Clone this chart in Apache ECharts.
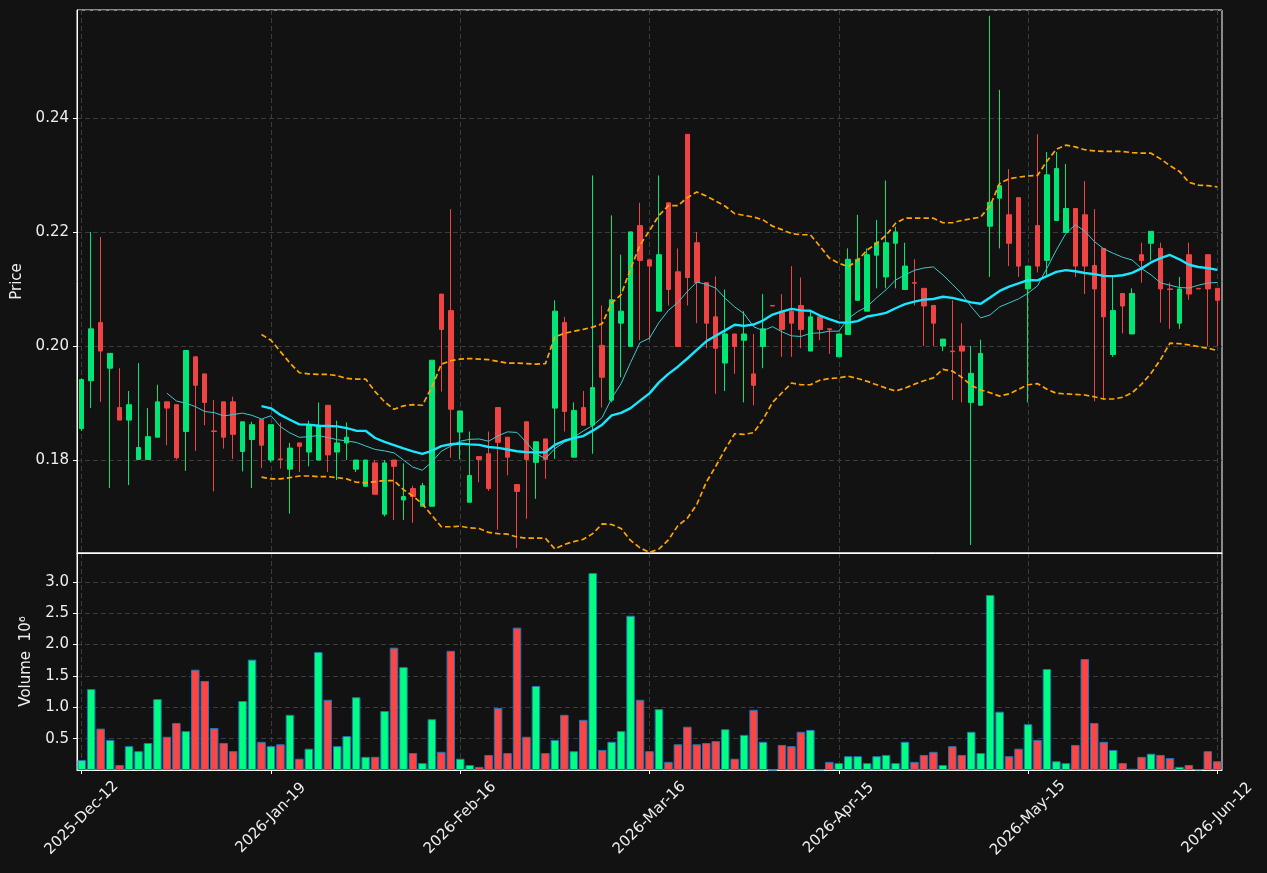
<!DOCTYPE html>
<html>
<head>
<meta charset="utf-8">
<script src="https://cdn.jsdelivr.net/npm/echarts@6/dist/echarts.min.js"></script>
<style>
  html, body { margin: 0; padding: 0; background: #121212; }
  #chart { width: 1267px; height: 873px; }
</style>
</head>
<body>
<div id="chart"></div>
<script>
// x ticks: bar index and date text
const tickIndex = [0, 20, 40, 60, 80, 100, 120];
const tickLabels = ['2025-Dec-12', '2026-Jan-19', '2026-Feb-16', '2026-Mar-16', '2026-Apr-15', '2026-May-15', '2026-Jun-12'];

const openPrices = [
  0.1855,0.1939,0.2041,0.1961,0.1892,0.1870,0.1801,0.1801,0.1840,0.1902,
  0.1897,0.1850,0.1981,0.1951,0.1851,0.1902,0.1902,0.1815,0.1836,0.1871,
  0.1800,0.1802,0.1784,0.1830,0.1814,0.1800,0.1896,0.1814,0.1830,0.1784,
  0.1754,0.1795,0.1705,0.1800,0.1730,0.1750,0.1719,0.1719,0.2091,0.2062,
  0.1849,0.1726,0.1806,0.1811,0.1892,0.1840,0.1757,0.1867,0.1796,0.1837,
  0.1891,0.2041,0.1805,0.1892,0.1861,0.2001,0.1905,0.2040,0.1999,0.2211,
  0.2151,0.2061,0.2251,0.2130,0.2371,0.2181,0.2111,0.2051,0.1970,0.2021,
  0.2010,0.1951,0.1999,0.2071,0.2061,0.2061,0.2071,0.1991,0.2051,0.2030,
  0.1981,0.2020,0.2080,0.2061,0.2159,0.2121,0.2180,0.2099,0.2111,0.2101,
  0.2071,0.2000,0.1991,0.2000,0.1901,0.1896,0.2210,0.2259,0.2230,0.2260,
  0.2100,0.2211,0.2150,0.2220,0.2199,0.2241,0.2230,0.2141,0.2171,0.1985,
  0.2092,0.2021,0.2160,0.2180,0.2171,0.2100,0.2040,0.2160,0.2101,0.2160,
  0.2101
];
const highPrices = [
  0.1943,0.2200,0.2191,0.1987,0.1961,0.1921,0.1970,0.1891,0.1932,0.1902,
  0.1897,0.1992,0.1981,0.1951,0.1905,0.1902,0.1911,0.1867,0.1867,0.1871,
  0.1862,0.1866,0.1830,0.1830,0.1869,0.1901,0.1896,0.1869,0.1866,0.1800,
  0.1800,0.1800,0.1800,0.1800,0.1794,0.1755,0.1760,0.1975,0.2091,0.2240,
  0.1886,0.1850,0.1806,0.1850,0.1892,0.1840,0.1757,0.1867,0.1832,0.1837,
  0.2080,0.2051,0.1901,0.1921,0.2299,0.2071,0.2229,0.2160,0.2200,0.2251,
  0.2151,0.2299,0.2251,0.2171,0.2371,0.2200,0.2111,0.2122,0.2099,0.2021,
  0.2061,0.2021,0.2091,0.2071,0.2091,0.2140,0.2120,0.2061,0.2051,0.2030,
  0.2021,0.2171,0.2230,0.2171,0.2221,0.2290,0.2209,0.2181,0.2152,0.2101,
  0.2071,0.2012,0.2080,0.2040,0.2000,0.2011,0.2579,0.2449,0.2310,0.2260,
  0.2141,0.2371,0.2340,0.2340,0.2319,0.2241,0.2289,0.2240,0.2171,0.2121,
  0.2092,0.2101,0.2181,0.2201,0.2181,0.2111,0.2121,0.2181,0.2101,0.2160,
  0.2101
];
const lowPrices = [
  0.1851,0.1891,0.1902,0.1751,0.1870,0.1756,0.1801,0.1801,0.1840,0.1826,
  0.1801,0.1781,0.1816,0.1861,0.1745,0.1820,0.1802,0.1780,0.1751,0.1786,
  0.1796,0.1785,0.1706,0.1779,0.1789,0.1800,0.1779,0.1765,0.1800,0.1779,
  0.1754,0.1740,0.1701,0.1695,0.1695,0.1690,0.1719,0.1719,0.1920,0.1804,
  0.1801,0.1726,0.1761,0.1746,0.1678,0.1773,0.1646,0.1697,0.1732,0.1767,
  0.1802,0.1850,0.1805,0.1861,0.1811,0.1892,0.1901,0.1945,0.1999,0.2010,
  0.2010,0.2061,0.2071,0.1999,0.2071,0.2040,0.1996,0.1916,0.1921,0.1951,
  0.1901,0.1896,0.1961,0.2070,0.1981,0.1981,0.1996,0.1991,0.2010,0.1986,
  0.1981,0.2020,0.2080,0.2061,0.2101,0.2101,0.2101,0.2099,0.2071,0.2000,
  0.2000,0.1991,0.1905,0.1901,0.1651,0.1896,0.2121,0.2171,0.2140,0.2121,
  0.1901,0.2129,0.2122,0.2220,0.2199,0.2121,0.2091,0.1903,0.1905,0.1981,
  0.2022,0.2021,0.2111,0.2150,0.2041,0.2030,0.2030,0.2081,0.2100,0.2000,
  0.2000
];
const closePrices = [
  0.1941,0.2030,0.1991,0.1987,0.1870,0.1897,0.1822,0.1841,0.1902,0.1891,
  0.1804,0.1992,0.1931,0.1901,0.1850,0.1840,0.1845,0.1867,0.1862,0.1826,
  0.1862,0.1801,0.1821,0.1824,0.1861,0.1861,0.1809,0.1830,0.1840,0.1800,
  0.1800,0.1740,0.1795,0.1789,0.1736,0.1736,0.1755,0.1975,0.2029,0.1889,
  0.1886,0.1773,0.1801,0.1750,0.1831,0.1805,0.1745,0.1801,0.1832,0.1801,
  0.2061,0.1885,0.1887,0.1861,0.1927,0.1945,0.2081,0.2061,0.2200,0.2150,
  0.2140,0.2160,0.2099,0.1999,0.2120,0.2111,0.2040,0.1996,0.2021,0.1999,
  0.2021,0.1931,0.2030,0.2070,0.2029,0.2040,0.2029,0.2051,0.2029,0.2029,
  0.2021,0.2152,0.2152,0.2160,0.2181,0.2181,0.2200,0.2140,0.2110,0.2070,
  0.2040,0.2012,0.1990,0.1991,0.1952,0.1987,0.2252,0.2281,0.2180,0.2140,
  0.2140,0.2140,0.2300,0.2311,0.2241,0.2140,0.2140,0.2100,0.2051,0.2062,
  0.2070,0.2092,0.2150,0.2201,0.2100,0.2099,0.2100,0.2091,0.2100,0.2100,
  0.2080
];
// volume in millions
const volumes = [
  0.16,1.29,0.66,0.48,0.08,0.38,0.30,0.43,1.13,0.53,
  0.75,0.62,1.60,1.42,0.67,0.43,0.30,1.10,1.76,0.45,
  0.38,0.41,0.88,0.18,0.34,1.88,1.12,0.38,0.54,1.16,
  0.21,0.21,0.94,1.95,1.64,0.27,0.11,0.81,0.29,1.90,
  0.18,0.08,0.05,0.24,0.99,0.27,2.27,0.53,1.34,0.27,
  0.48,0.88,0.30,0.80,3.14,0.32,0.45,0.62,2.46,1.12,
  0.30,0.97,0.13,0.41,0.69,0.41,0.43,0.46,0.65,0.18,
  0.56,0.96,0.45,0.00,0.40,0.38,0.61,0.64,0.01,0.13,
  0.11,0.22,0.22,0.11,0.22,0.24,0.11,0.45,0.13,0.24,
  0.29,0.08,0.38,0.24,0.61,0.27,2.79,0.93,0.22,0.34,
  0.73,0.48,1.61,0.14,0.11,0.40,1.77,0.75,0.45,0.32,
  0.11,0.02,0.21,0.26,0.24,0.19,0.05,0.08,0.01,0.30,
  0.14
];
// overlay lines
const ma10 = [
  null,null,null,null,null,null,null,null,null,
  0.19172,0.19035,0.18997,0.18937,0.18851,0.18831,0.18774,0.18797,0.18823,0.18783,0.18718,
  0.18776,0.18585,0.18475,0.18398,0.18409,0.18430,0.18394,0.18357,0.18335,0.18309,
  0.18247,0.18186,0.18160,0.18125,0.18000,0.17875,0.17821,0.17966,0.18155,0.18244,
  0.18330,0.18363,0.18369,0.18330,0.18425,0.18494,0.18484,0.18310,0.18113,0.18025,
  0.18200,0.18312,0.18398,0.18509,0.18605,0.18745,0.19081,0.19341,0.19709,0.20058,
  0.20137,0.20412,0.20624,0.20762,0.20955,0.21121,0.21080,0.21015,0.20836,0.20685,
  0.20566,0.20337,0.20268,0.20339,0.20248,0.20177,0.20166,0.20221,0.20229,0.20259,
  0.20259,0.20480,0.20602,0.20692,0.20844,0.20985,0.21156,0.21245,0.21326,0.21367,
  0.21386,0.21246,0.21084,0.20915,0.20686,0.20492,0.20544,0.20685,0.20755,0.20825,
  0.20925,0.21053,0.21363,0.21683,0.21972,0.22125,0.22013,0.21832,0.21703,0.21625,
  0.21555,0.21507,0.21357,0.21247,0.21106,0.21065,0.21025,0.21016,0.21065,0.21103,
  0.21113
];
const ma20 = [
  null,null,null,null,null,null,null,null,null,null,
  null,null,null,null,null,null,null,null,null,
  0.18945,
  0.18906,0.18791,0.18706,0.18625,0.18620,0.18602,0.18596,0.18590,0.18559,0.18514,
  0.18512,0.18386,0.18318,0.18262,0.18205,0.18153,0.18108,0.18162,0.18245,0.18277,
  0.18289,0.18275,0.18265,0.18228,0.18213,0.18185,0.18153,0.18138,0.18134,0.18135,
  0.18265,0.18338,0.18384,0.18420,0.18515,0.18620,0.18783,0.18826,0.18911,0.19042,
  0.19169,0.19362,0.19511,0.19636,0.19780,0.19933,0.20081,0.20178,0.20273,0.20372,
  0.20352,0.20375,0.20446,0.20551,0.20602,0.20649,0.20623,0.20618,0.20533,0.20472,
  0.20413,0.20409,0.20435,0.20516,0.20546,0.20581,0.20661,0.20733,0.20778,0.20813,
  0.20823,0.20863,0.20843,0.20804,0.20765,0.20739,0.20850,0.20965,0.21041,0.21096,
  0.21156,0.21150,0.21224,0.21299,0.21329,0.21309,0.21279,0.21259,0.21229,0.21225,
  0.21240,0.21280,0.21360,0.21465,0.21539,0.21595,0.21519,0.21424,0.21384,0.21364,
  0.21334
];
const bbUpper = [
  null,null,null,null,null,null,null,null,null,null,
  null,null,null,null,null,null,null,null,null,
  0.2020,
  0.2010,0.1990,0.1970,0.1953,0.1951,0.1950,0.1950,0.1948,0.1943,0.1942,
  0.1942,0.1920,0.1902,0.1889,0.1895,0.1897,0.1896,0.1928,0.1968,0.1974,
  0.1977,0.1978,0.1977,0.1976,0.1973,0.1970,0.1970,0.1969,0.1968,0.1969,
  0.2016,0.2022,0.2026,0.2029,0.2033,0.2039,0.2075,0.2090,0.2135,0.2177,
  0.2202,0.2229,0.2246,0.2246,0.2260,0.2270,0.2263,0.2254,0.2245,0.2232,
  0.2229,0.2226,0.2221,0.2210,0.2204,0.2197,0.2195,0.2195,0.2175,0.2154,
  0.2145,0.2139,0.2150,0.2168,0.2180,0.2194,0.2215,0.2224,0.2224,0.2224,
  0.2224,0.2216,0.2216,0.2220,0.2223,0.2226,0.2246,0.2285,0.2293,0.2296,
  0.2298,0.2299,0.2324,0.2345,0.2352,0.2349,0.2344,0.2342,0.2341,0.2341,
  0.2341,0.2339,0.2338,0.2338,0.2328,0.2316,0.2306,0.2287,0.2282,0.2281,
  0.2279
];
const bbLower = [
  null,null,null,null,null,null,null,null,null,null,
  null,null,null,null,null,null,null,null,null,
  0.1770,
  0.1767,0.1767,0.1769,0.1772,0.1772,0.1771,0.1771,0.1769,0.1767,0.1761,
  0.1760,0.1762,0.1764,0.1764,0.1748,0.1737,0.1723,0.1703,0.1683,0.1683,
  0.1684,0.1681,0.1680,0.1673,0.1671,0.1670,0.1665,0.1663,0.1663,0.1663,
  0.1644,0.1652,0.1657,0.1661,0.1671,0.1688,0.1687,0.1680,0.1659,0.1646,
  0.1638,0.1644,0.1660,0.1685,0.1698,0.1722,0.1761,0.1789,0.1819,0.1846,
  0.1845,0.1848,0.1871,0.1901,0.1918,0.1935,0.1932,0.1932,0.1940,0.1943,
  0.1944,0.1947,0.1943,0.1938,0.1932,0.1926,0.1921,0.1926,0.1933,0.1939,
  0.1944,0.1959,0.1956,0.1945,0.1931,0.1923,0.1918,0.1912,0.1916,0.1924,
  0.1932,0.1934,0.1924,0.1917,0.1916,0.1915,0.1914,0.1911,0.1907,0.1907,
  0.1910,0.1918,0.1933,0.1952,0.1976,0.2005,0.2004,0.2002,0.1999,0.1996,
  0.1992
];

const upColor = '#00e676';
const downColor = '#ef4444';
const volUp = '#00ff80';
const volDown = '#ff4444';
const textColor = '#eeeeee';
const gridColor = '#3c3c3c';
const font = 'DejaVu Sans';

const categories = openPrices.map(function (v, i) { return String(i); });
const candles = openPrices.map(function (o, i) {
  return [o, closePrices[i], lowPrices[i], highPrices[i]];
});
const volBars = volumes.map(function (v, i) {
  return { value: v, itemStyle: { color: closePrices[i] >= openPrices[i] ? volUp : volDown } };
});

function isTick(index) {
  return tickIndex.indexOf(index) >= 0;
}

const chart = echarts.init(document.getElementById('chart'));

const option = {
  animation: false,
  backgroundColor: '#121212',
  grid: [
    { left: 77, top: 10, width: 1145, height: 543, show: true, borderColor: '#ffffff', borderWidth: 1, backgroundColor: '#121212' },
    { left: 77, top: 553, width: 1145, height: 217, show: true, borderColor: '#ffffff', borderWidth: 1, backgroundColor: '#121212' }
  ],
  xAxis: [
    {
      type: 'category', gridIndex: 0, data: categories, boundaryGap: true,
      axisLine: { show: true, lineStyle: { color: '#ffffff' } },
      axisTick: { show: false },
      axisLabel: { show: false },
      splitLine: { show: true, interval: function (i) { return isTick(i); }, alignWithLabel: true, lineStyle: { color: gridColor, type: [5, 3] } }
    },
    {
      type: 'category', gridIndex: 1, data: categories, boundaryGap: true,
      axisLine: { show: true, lineStyle: { color: '#ffffff' } },
      axisTick: { show: true, alignWithLabel: true, interval: function (i) { return isTick(i); }, length: 4, lineStyle: { color: '#ffffff' } },
      axisLabel: {
        interval: function (i) { return isTick(i); },
        formatter: function (v, i) { const k = tickIndex.indexOf(i); return k >= 0 ? tickLabels[k] : ''; },
        rotate: 45, align: 'center', verticalAlign: 'middle', margin: 48,
        color: textColor, fontSize: 15, fontFamily: font
      },
      splitLine: { show: true, interval: function (i) { return isTick(i); }, alignWithLabel: true, lineStyle: { color: gridColor, type: [5, 3] } }
    }
  ],
  yAxis: [
    {
      type: 'value', gridIndex: 0, min: 0.1637, max: 0.2589, splitNumber: 5,
      name: 'Price', nameLocation: 'middle', nameGap: 50, nameRotate: 90,
      nameTextStyle: { color: textColor, fontSize: 15, fontFamily: font },
      axisLine: { show: true, lineStyle: { color: '#ffffff' } },
      axisTick: { show: true, length: 4, lineStyle: { color: '#ffffff' } },
      axisLabel: {
        color: textColor, fontSize: 15, fontFamily: font, margin: 8,
        showMinLabel: false, showMaxLabel: false,
        formatter: function (v) { return v.toFixed(2); }
      },
      splitLine: { show: true, lineStyle: { color: gridColor, type: [5, 3] } }
    },
    {
      type: 'value', gridIndex: 1, min: 0, max: 3.46, interval: 0.5,
      name: 'Volume  10⁶', nameLocation: 'middle', nameGap: 43, nameRotate: 90,
      nameTextStyle: { color: textColor, fontSize: 15, fontFamily: font },
      axisLine: { show: true, lineStyle: { color: '#ffffff' } },
      axisTick: { show: true, length: 4, lineStyle: { color: '#ffffff' } },
      axisLabel: {
        color: textColor, fontSize: 15, fontFamily: font, margin: 8,
        showMinLabel: false, showMaxLabel: false,
        formatter: function (v) { return v.toFixed(1); }
      },
      splitLine: { show: true, lineStyle: { color: gridColor, type: [5, 3] } }
    }
  ],
  series: [
    {
      name: 'OHLC', type: 'candlestick', xAxisIndex: 0, yAxisIndex: 0,
      data: candles, barWidth: 5,
      itemStyle: { color: upColor, color0: downColor, borderColor: upColor, borderColor0: downColor, borderWidth: 1 }
    },
    {
      name: 'MA10', type: 'line', xAxisIndex: 0, yAxisIndex: 0, data: ma10,
      symbol: 'none', lineStyle: { color: '#3fc9c9', width: 1 }, z: 3
    },
    {
      name: 'MA20', type: 'line', xAxisIndex: 0, yAxisIndex: 0, data: ma20,
      symbol: 'none', lineStyle: { color: '#1ae6ff', width: 2.4 }, z: 3
    },
    {
      name: 'Upper', type: 'line', xAxisIndex: 0, yAxisIndex: 0, data: bbUpper,
      symbol: 'none', lineStyle: { color: '#ffa500', width: 1.7, type: [5.5, 3] }, z: 3
    },
    {
      name: 'Lower', type: 'line', xAxisIndex: 0, yAxisIndex: 0, data: bbLower,
      symbol: 'none', lineStyle: { color: '#ffa500', width: 1.7, type: [5.5, 3] }, z: 3
    },
    {
      name: 'Volume', type: 'bar', xAxisIndex: 1, yAxisIndex: 1, data: volBars,
      barWidth: '90%',
      itemStyle: { borderColor: '#1f77b4', borderWidth: 1 }
    }
  ]
};

chart.setOption(option);
</script>
</body>
</html>
